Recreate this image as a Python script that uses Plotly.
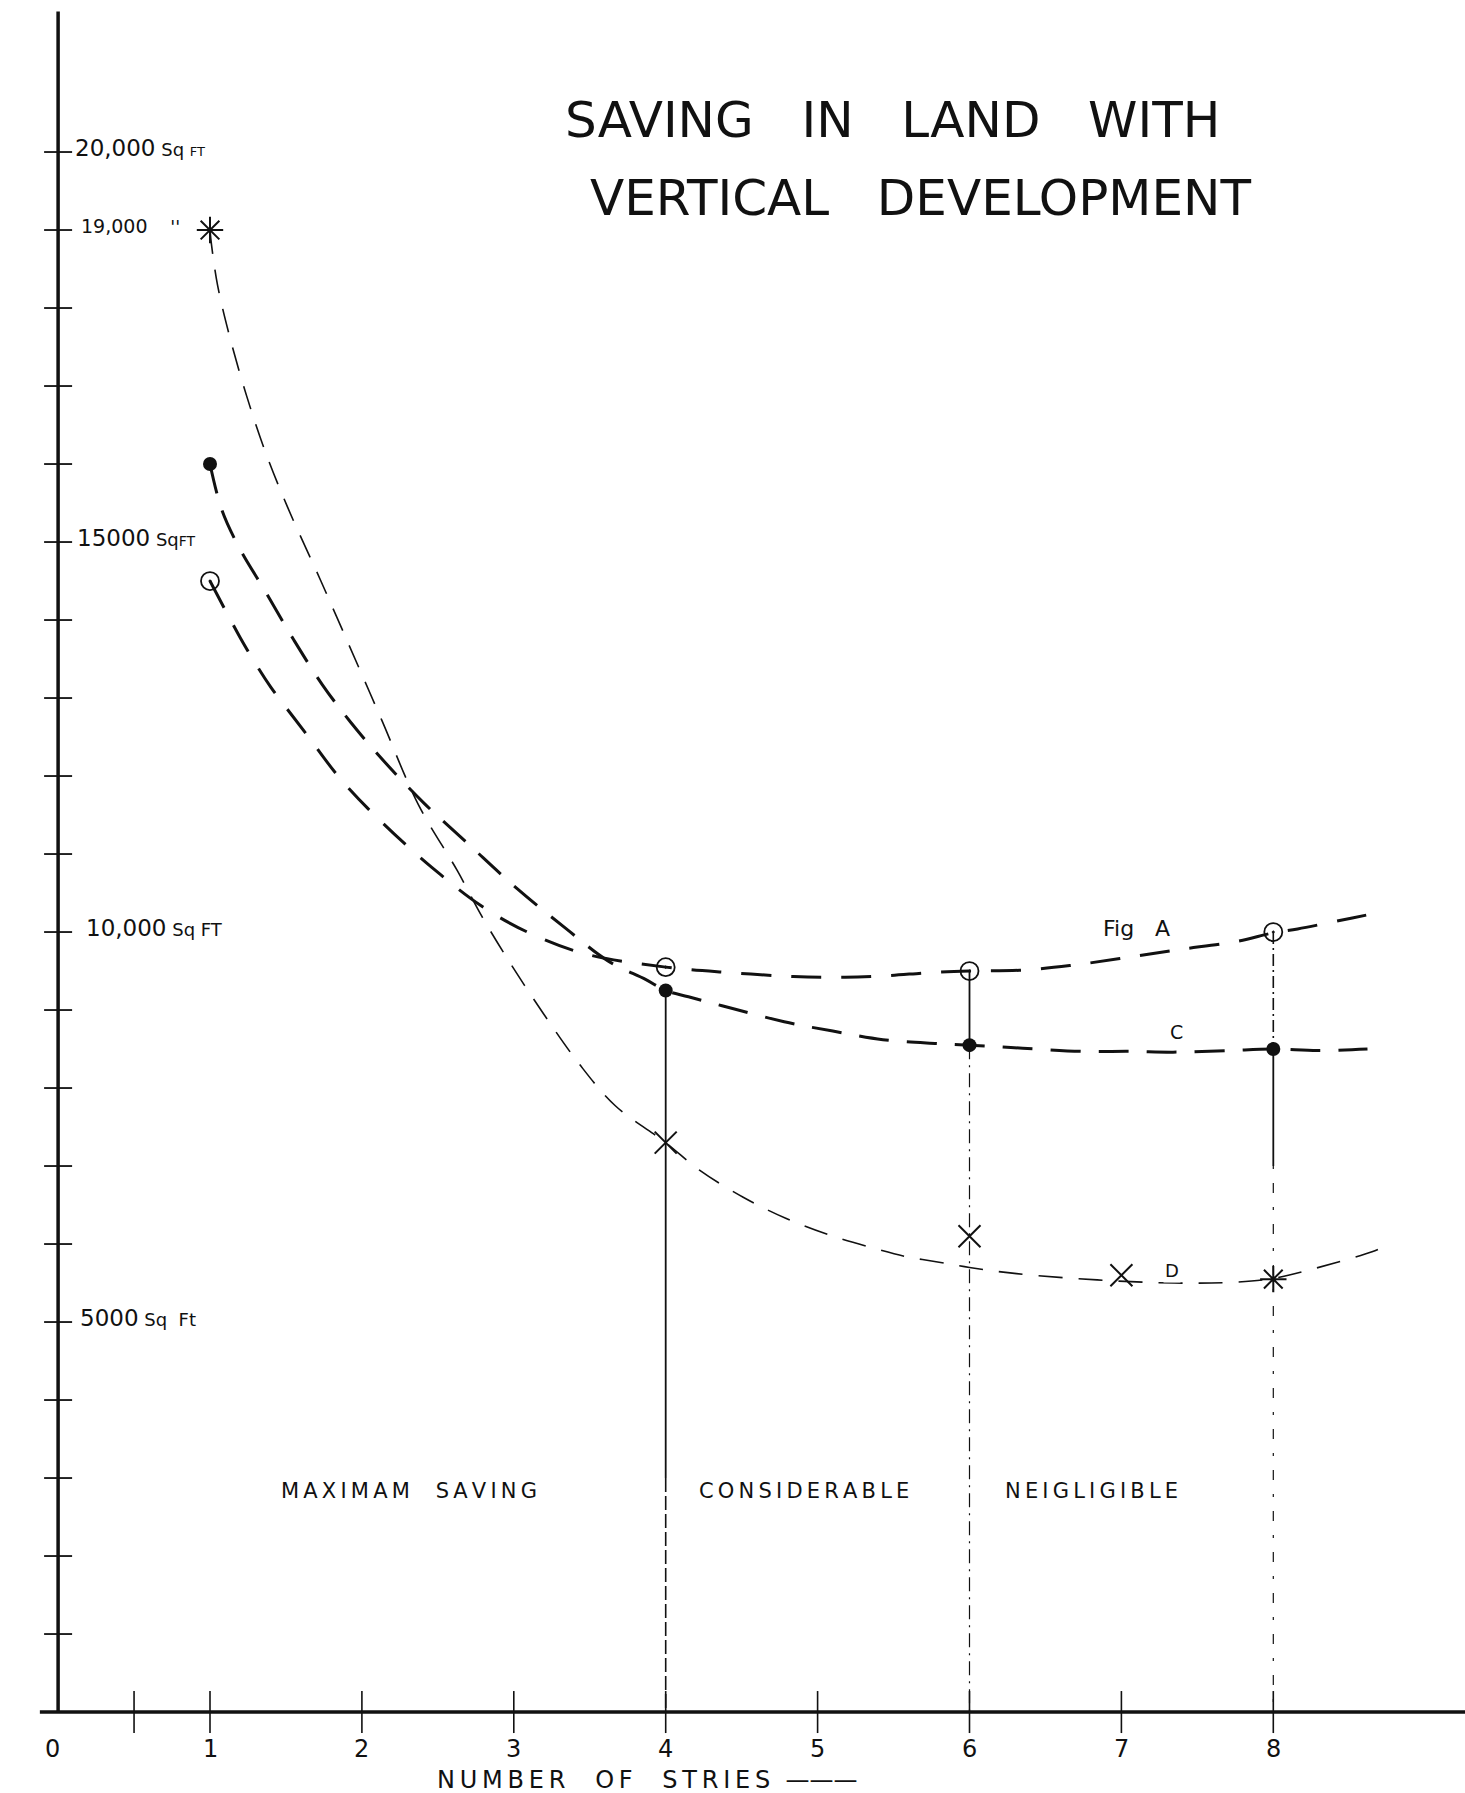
import plotly.graph_objects as go

# ---- data -------------------------------------------------------------
# plotted points (number of storeys -> land area in sq ft)
storeys_A = [1, 4, 6, 8]
area_A = [14500, 9550, 9500, 10000]
storeys_C = [1, 4, 6, 8]
area_C = [16000, 9250, 8550, 8500]
storeys_D = [1, 4, 6, 7, 8]
area_D = [19000, 7300, 6100, 5600, 5550]

# hand-drawn trend curves
curve_A_x = [1.0, 1.1, 1.2, 1.3, 1.40, 1.63, 1.86, 2.13, 2.46, 2.79, 3.10, 3.47, 4.0,
             4.42, 4.84, 5.18, 5.46, 5.74, 6.0, 6.33, 6.66, 6.99, 7.36, 7.76, 8.0,
             8.16, 8.52, 8.62]
curve_A_y = [14500, 14130, 13770, 13440, 13140, 12550, 11960, 11410, 10830, 10330, 9990, 9720, 9550,
             9480, 9430, 9420, 9440, 9480, 9500, 9510, 9570, 9660, 9770, 9880, 9990,
             10040, 10180, 10220]
curve_C_x = [1.0, 1.08, 1.20, 1.36, 1.55, 1.74, 1.93, 2.15, 2.41, 2.70, 3.02, 3.34,
             3.62, 3.87, 4.0, 4.15, 4.44, 4.78, 5.10, 5.43, 5.79, 6.0, 6.35, 6.75,
             7.06, 7.34, 7.70, 8.0, 8.29, 8.62]
curve_C_y = [16000, 15400, 14900, 14380, 13750, 13170, 12680, 12180, 11650, 11130, 10560, 10050,
             9630, 9390, 9250, 9170, 9020, 8850, 8730, 8620, 8570, 8550, 8510, 8470,
             8470, 8460, 8480, 8500, 8480, 8500]
curve_D_x = [1.0, 1.01, 1.05, 1.13, 1.24, 1.36, 1.51, 1.73, 1.98, 2.13, 2.37, 2.63,
             2.79, 2.99, 3.20, 3.43, 3.67, 4.0, 4.22, 4.51, 4.79, 5.10, 5.38, 5.58,
             5.82, 6.0, 6.31, 6.84, 7.35, 7.74, 8.0, 8.24, 8.65, 8.73]
curve_D_y = [19000, 18810, 18290, 17630, 16880, 16180, 15450, 14500, 13390, 12720, 11640, 10780,
             10200, 9560, 8940, 8310, 7770, 7300, 6950, 6600, 6330, 6100, 5940, 5840,
             5760, 5700, 5620, 5540, 5500, 5510, 5560, 5670, 5900, 5970]

x_ticks = [0.5, 1, 2, 3, 4, 5, 6, 7, 8]
x_tick_labels = ["0", "1", "2", "3", "4", "5", "6", "7", "8"]
x_label_pos = [0, 1, 2, 3, 4, 5, 6, 7, 8]
y_ticks = list(range(1000, 21000, 1000))
y_label_vals = [20000, 19000, 15000, 10000, 5000]
y_label_main = ["20,000", "19,000", "15000", "10,000", "5000"]
y_label_unit = [" Sq <span style='font-size:13px'>FT</span>", "    ''",
                " Sq<span style='font-size:14px'>FT</span>", " Sq FT", " Sq  Ft"]
y_label_size = [23, 19, 23, 23, 23]
y_label_x = [0.10, 0.14, 0.11, 0.17, 0.13]

zones = ["MAXIMAM  SAVING", "CONSIDERABLE", "NEIGLIGIBLE"]
zone_x = [2.31, 4.91, 6.80]
zone_y = 2830

INK = "#111111"
FONT = "DejaVu Sans"
THIN = "\u2009"


def spaced(s):
    # open up the lettering a little, like hand stencilled text
    return THIN.join(s)


fig = go.Figure()

# ---- curves -------------------------------------------------------------
fig.add_trace(go.Scatter(x=curve_D_x, y=curve_D_y, mode="lines", line_shape="spline",
                         line=dict(color=INK, width=1.6, dash="24px,16px")))
fig.add_trace(go.Scatter(x=curve_C_x, y=curve_C_y, mode="lines", line_shape="spline",
                         line=dict(color=INK, width=3, dash="30px,18px")))
fig.add_trace(go.Scatter(x=curve_A_x, y=curve_A_y, mode="lines", line_shape="spline",
                         line=dict(color=INK, width=3, dash="30px,20px")))


# ---- vertical drop lines at 4, 6 and 8 storeys -----------------------------
def vline(x, y0, y1, width, dash):
    fig.add_trace(go.Scatter(x=[x, x], y=[y0, y1], mode="lines",
                             line=dict(color=INK, width=width, dash=dash)))


c4 = area_C[storeys_C.index(4)]
vline(4, c4, 3000, 1.8, "solid")
vline(4, 3000, 0, 1.6, "14px,4px")
a6, c6 = area_A[storeys_A.index(6)], area_C[storeys_C.index(6)]
vline(6, a6, c6, 1.8, "solid")
vline(6, c6, 0, 1.2, "14px,6px,2px,6px")
a8, c8 = area_A[storeys_A.index(8)], area_C[storeys_C.index(8)]
vline(8, a8, c8, 1.6, "12px,4px,2px,4px")
vline(8, c8, 7000, 1.8, "solid")
vline(8, 7000, 0, 1.2, "3px,14px,10px,14px")

# ---- markers -------------------------------------------------------------
fig.add_trace(go.Scatter(x=storeys_A, y=area_A, mode="markers",
                         marker=dict(symbol="circle-open-dot", size=18, color=INK,
                                     line=dict(width=1.8, color=INK))))
fig.add_trace(go.Scatter(x=storeys_C, y=area_C, mode="markers",
                         marker=dict(symbol="circle", size=14, color=INK)))
fig.add_trace(go.Scatter(x=storeys_D, y=area_D, mode="markers",
                         marker=dict(symbol=["asterisk-open", "x-thin-open", "x-thin-open",
                                             "x-thin-open", "asterisk-open"],
                                     size=22, color=INK, line=dict(width=2, color=INK))))

# ---- axis tick crosses ------------------------------------------------------
fig.add_trace(go.Scatter(x=[0] * len(y_ticks), y=y_ticks, mode="markers",
                         marker=dict(symbol="line-ew", size=20, line=dict(width=1.8, color=INK))))
fig.add_trace(go.Scatter(x=x_ticks, y=[0] * len(x_ticks), mode="markers",
                         marker=dict(symbol="line-ns", size=30, line=dict(width=1.6, color=INK))))

# ---- axis lines ----------------------------------------------------------
fig.add_shape(type="line", x0=-0.12, x1=9.3, y0=0, y1=0, line=dict(color=INK, width=3.5))
fig.add_shape(type="line", x0=0, x1=0, y0=0, y1=21800, line=dict(color=INK, width=3.5))

# ---- text ----------------------------------------------------------------
ann = []
for xv, t in zip(x_label_pos, x_tick_labels):
    ann.append(dict(x=xv, y=-470, text=t, showarrow=False, xshift=-6 if xv == 0 else 0,
                    font=dict(size=24, color=INK, family=FONT)))
for yv, m, u, xl, fs in zip(y_label_vals, y_label_main, y_label_unit, y_label_x, y_label_size):
    ann.append(dict(x=xl, y=yv, text=m + "<span style='font-size:18px'>" + u + "</span>",
                    showarrow=False, xanchor="left", yanchor="middle", yshift=4,
                    font=dict(size=fs, color=INK, family=FONT)))
for t, xv in zip(zones, zone_x):
    ann.append(dict(x=xv, y=zone_y, text=spaced(t), showarrow=False,
                    font=dict(size=21, color=INK, family=FONT)))
ann.append(dict(x=7.10, y=10050, text="Fig   A", showarrow=False,
                font=dict(size=22, color=INK, family=FONT)))
ann.append(dict(x=7.36, y=8720, text="C", showarrow=False,
                font=dict(size=19, color=INK, family=FONT)))
ann.append(dict(x=7.33, y=5660, text="D", showarrow=False, bgcolor="white",
                font=dict(size=18, color=INK, family=FONT)))
ann.append(dict(x=2.48, y=0.007, yref="paper", text=spaced("NUMBER  OF  STRIES") + "  ———",
                showarrow=False, xanchor="left", yanchor="middle",
                font=dict(size=24, color=INK, family=FONT)))
ann.append(dict(x=0.609, y=0.933, xref="paper", yref="paper", text="SAVING   IN   LAND   WITH",
                showarrow=False, xanchor="center", yanchor="middle",
                font=dict(size=50, color=INK, family=FONT)))
ann.append(dict(x=0.628, y=0.8896, xref="paper", yref="paper", text="VERTICAL   DEVELOPMENT",
                showarrow=False, xanchor="center", yanchor="middle",
                font=dict(size=50, color=INK, family=FONT)))

fig.update_layout(
    width=1465, height=1793,
    margin=dict(l=0, r=0, t=0, b=0),
    paper_bgcolor="white", plot_bgcolor="white",
    showlegend=False,
    xaxis=dict(range=[-0.3825, 9.262], visible=False),
    yaxis=dict(range=[-1038, 21949], visible=False),
    annotations=ann,
)

fig.write_html("out.html")
